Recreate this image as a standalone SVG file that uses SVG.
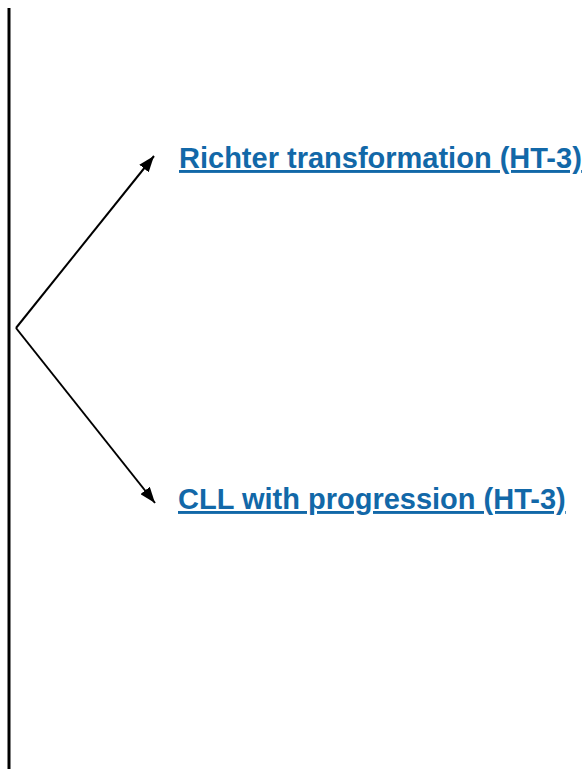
<svg xmlns="http://www.w3.org/2000/svg" width="585" height="769" viewBox="0 0 585 769">
<style>
.lnk{font-family:"Liberation Sans",Arial,sans-serif;font-weight:bold;font-size:29px;fill:#1268a8;text-decoration:underline}
.c{stroke:#000;stroke-width:2;fill:none}
</style>
<defs>
<marker id="ah" viewBox="0 0 16 12" refX="16" refY="6" markerWidth="16" markerHeight="12" markerUnits="userSpaceOnUse" orient="auto">
<path d="M0,0 L16,6 L0,12 z" fill="#000"/>
</marker>
</defs>
<rect width="585" height="769" fill="#fff"/>
<g id="connectors">
<line x1="9" y1="8" x2="9" y2="769" stroke="#000" stroke-width="3"/>
<line class="c" x1="16" y1="328" x2="154" y2="156" marker-end="url(#ah)"/>
<line class="c" x1="16" y1="328" x2="155" y2="503" marker-end="url(#ah)"/>
</g>
<g id="richter">
<text class="lnk" x="179" y="168">Richter transformation (HT-3)</text>
</g>
<g id="cll">
<text class="lnk" x="178" y="509">CLL with progression (HT-3)</text>
</g>
</svg>
